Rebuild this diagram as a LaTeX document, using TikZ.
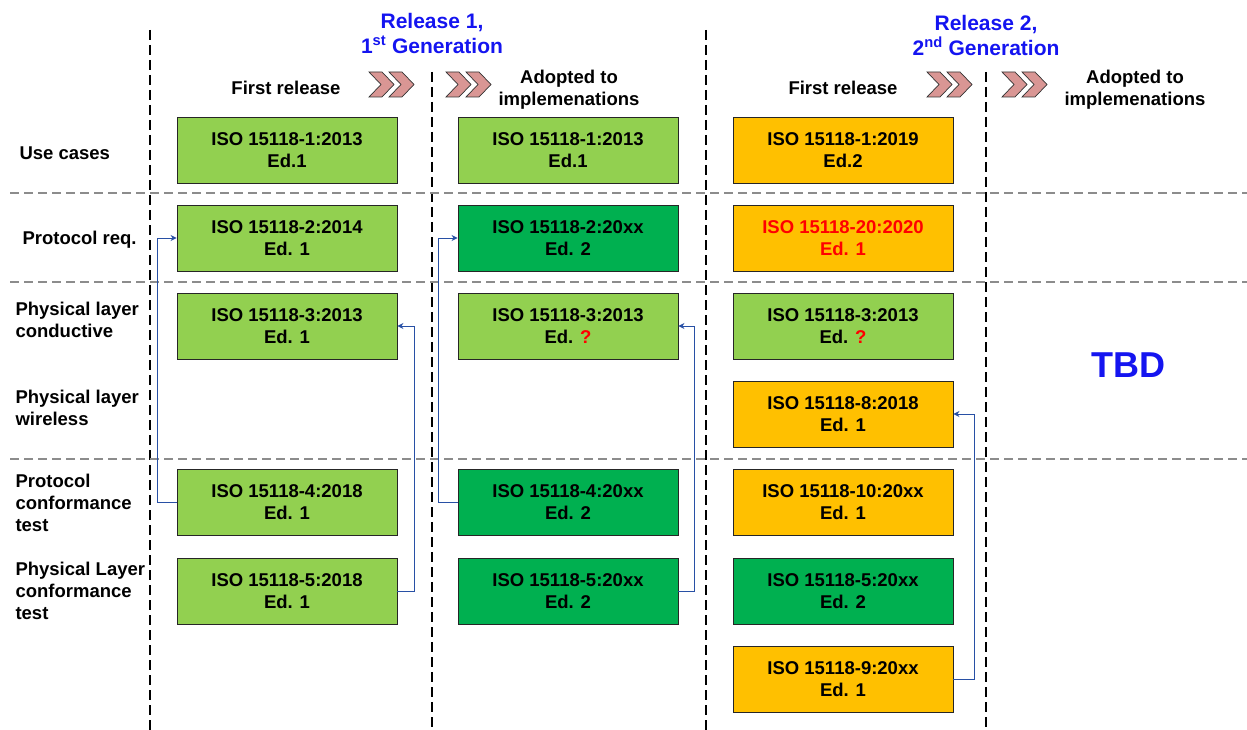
\documentclass[tikz,border=0pt]{standalone}
\usepackage{fontspec}
\setmainfont{Liberation Sans}
\usepackage{tikz}
\usetikzlibrary{arrows.meta}
\definecolor{lgreen}{RGB}{146,208,80}
\definecolor{dgreen}{RGB}{0,176,80}
\definecolor{amber}{RGB}{255,192,0}
\definecolor{chev}{RGB}{217,150,148}
\definecolor{link}{RGB}{40,80,165}
\definecolor{relblue}{RGB}{20,20,240}

\begin{document}
\begin{tikzpicture}[x=1pt,y=-1pt,
    every node/.style={font=\fontsize{18.5}{22}\selectfont\bfseries},
    iso/.style={draw=black!85,line width=0.9pt,minimum width=220pt,minimum height=66pt,inner sep=0pt,align=center},
    vline/.style={black,line width=1.1pt,dash pattern=on 10pt off 5pt},
    hline/.style={black!45,line width=1.4pt,dash pattern=on 9pt off 5pt},
    conn/.style={link,line width=0.9pt,-{Stealth[length=6pt,width=6pt]}},
    rowlbl/.style={anchor=west,align=left},
    title/.style={relblue,align=center,font=\fontsize{21}{25}\selectfont\bfseries}]
  \useasboundingbox (0,0) rectangle (1247,730);
  % grid
  \draw[vline] (150,30) -- (150,730);
  \draw[vline] (432,72) -- (432,730);
  \draw[vline] (706,30) -- (706,730);
  \draw[vline] (986,72) -- (986,730);
  \draw[hline] (10,193) -- (1247,193);
  \draw[hline] (10,282) -- (1247,282);
  \draw[hline] (10,459) -- (1247,459);
  % headers
  \node[title] (rel1) at (432,33) {Release 1,\\1\textsuperscript{st} Generation};
  \node[title] (rel2) at (986,35) {Release 2,\\2\textsuperscript{nd} Generation};
  \node (h1) at (286,88) {First release};
  \node[align=center] (h2) at (569,90) {Adopted to\\implemenations};
  \node (h3) at (843,88) {First release};
  \node[align=center] (h4) at (1135,90) {Adopted to\\implemenations};
  \foreach \x in {369,389,446,466,927,947,1002,1022}
    \draw[fill=chev,draw=black!80,line width=0.7pt] (\x,72) -- ++(13,0) -- ++(12,12.5) -- ++(-12,12.5) -- ++(-13,0) -- ++(12,-12.5) -- cycle;
  % rows
  \node[rowlbl] (l1) at (16,153) {Use cases};
  \node[rowlbl] (l2) at (19,240) {Protocol req.};
  \node[rowlbl] (l3) at (12,320) {Physical layer\\conductive};
  \node[rowlbl] (l4) at (12,408) {Physical layer\\wireless};
  \node[rowlbl] (l5) at (12,503) {Protocol\\conformance\\test};
  \node[rowlbl] (l6) at (12,591) {Physical Layer\\conformance\\test};
  % release 1, first release
  \node[iso,fill=lgreen] (a1) at (287,150) {ISO 15118-1:2013\\Ed.1};
  \node[iso,fill=lgreen] (a2) at (287,238) {ISO 15118-2:2014\\Ed. 1};
  \node[iso,fill=lgreen] (a3) at (287,326) {ISO 15118-3:2013\\Ed. 1};
  \node[iso,fill=lgreen] (a4) at (287,502) {ISO 15118-4:2018\\Ed. 1};
  \node[iso,fill=lgreen] (a5) at (287,591) {ISO 15118-5:2018\\Ed. 1};
  % release 1, adopted
  \node[iso,fill=lgreen] (b1) at (568,150) {ISO 15118-1:2013\\Ed.1};
  \node[iso,fill=dgreen] (b2) at (568,238) {ISO 15118-2:20xx\\Ed. 2};
  \node[iso,fill=lgreen] (b3) at (568,326) {ISO 15118-3:2013\\Ed. {\color{red}?}};
  \node[iso,fill=dgreen] (b4) at (568,502) {ISO 15118-4:20xx\\Ed. 2};
  \node[iso,fill=dgreen] (b5) at (568,591) {ISO 15118-5:20xx\\Ed. 2};
  % release 2, first release
  \node[iso,fill=amber] (c1) at (843,150) {ISO 15118-1:2019\\Ed.2};
  \node[iso,fill=amber,text=red] (c20) at (843,238) {ISO 15118-20:2020\\Ed. 1};
  \node[iso,fill=lgreen] (c3) at (843,326) {ISO 15118-3:2013\\Ed. {\color{red}?}};
  \node[iso,fill=amber] (c8) at (843,414) {ISO 15118-8:2018\\Ed. 1};
  \node[iso,fill=amber] (c10) at (843,502) {ISO 15118-10:20xx\\Ed. 1};
  \node[iso,fill=dgreen] (c5) at (843,591) {ISO 15118-5:20xx\\Ed. 2};
  \node[iso,fill=amber] (c9) at (843,679) {ISO 15118-9:20xx\\Ed. 1};
  \node[relblue,font=\fontsize{36}{40}\selectfont\bfseries] (tbd) at (1128,365) {TBD};
  % links
  \draw[conn] (a4.west) -- ++(-19,0) |- (a2.west);
  \draw[conn] (a5.east) -- ++(17,0) |- (a3.east);
  \draw[conn] (b4.west) -- ++(-19,0) |- (b2.west);
  \draw[conn] (b5.east) -- ++(16,0) |- (b3.east);
  \draw[conn] (c9.east) -- ++(21,0) |- (c8.east);
\end{tikzpicture}
\end{document}
